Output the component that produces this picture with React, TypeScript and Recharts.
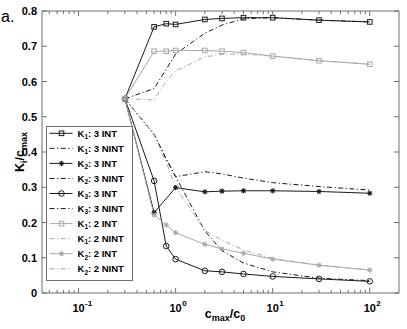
import React from 'react';
import { LineChart, Line, XAxis, YAxis, Legend } from 'recharts';

// ---------- data ----------
const xValues = [0.3, 0.6, 0.8, 1, 2, 3, 5, 10, 30, 100];

const k1Int3 = [0.551, 0.755, 0.764, 0.762, 0.776, 0.779, 0.781, 0.781, 0.774, 0.769];
const k1Nint3 = [0.551, 0.58, 0.635, 0.678, 0.737, 0.76, 0.778, 0.781, 0.774, 0.769];
const k2Int3 = [0.551, 0.228, null, 0.299, 0.287, 0.289, 0.29, 0.29, 0.288, 0.283];
const k2Nint3 = [0.551, 0.45, 0.38, 0.33, 0.344, 0.338, 0.326, 0.313, 0.302, 0.292];
const k3Int3 = [0.551, 0.318, 0.133, 0.096, 0.063, 0.06, 0.054, 0.047, 0.04, 0.033];
const k3Nint3 = [0.551, 0.45, 0.38, 0.33, 0.176, 0.12, 0.085, 0.06, 0.042, 0.035];
const k1Int2 = [0.551, 0.686, 0.686, 0.688, 0.688, 0.686, 0.682, 0.672, 0.659, 0.649];
const k1Nint2 = [0.551, 0.548, 0.6, 0.63, 0.67, 0.677, 0.678, 0.672, 0.659, 0.649];
const k2Int2 = [0.551, 0.221, 0.193, 0.171, 0.138, 0.125, 0.113, 0.096, 0.079, 0.065];
const k2Nint2 = [0.551, 0.45, 0.37, 0.3, 0.177, 0.15, 0.122, 0.098, 0.079, 0.065];

const xMajorTicks = [0.1, 1, 10, 100];
const xTickExponents = ['-1', '0', '1', '2'];
const xMinorTicks = [
  0.05, 0.06, 0.07, 0.08, 0.09,
  0.2, 0.3, 0.4, 0.5, 0.6, 0.7, 0.8, 0.9,
  2, 3, 4, 5, 6, 7, 8, 9,
  20, 30, 40, 50, 60, 70, 80, 90,
];
const yTicks = [0, 0.1, 0.2, 0.3, 0.4, 0.5, 0.6, 0.7, 0.8];
const yTickLabels = ['0', '0.1', '0.2', '0.3', '0.4', '0.5', '0.6', '0.7', '0.8'];

// ---------- styling ----------
const W = 407;
const H = 329;
const MARGIN = { top: 10, right: 7, bottom: 35, left: 41 };
const X_DOMAIN = [0.042, 200];
const Y_DOMAIN = [0, 0.8];
const AXIS = '#6e6e6e';
const BLACK = '#1a1a1a';
const GREY = '#a9a9a9';
const FONT = "'Liberation Sans', Arial, Helvetica, sans-serif";
const DASHDOT = '5 2.5 1.2 2.5';

type Marker = 'square' | 'star' | 'circle' | 'none';
interface SeriesDef {
  key: string;
  values: (number | null)[];
  sub: string;
  label: string;
  color: string;
  dash?: string;
  marker: Marker;
}

const series: SeriesDef[] = [
  { key: 'k1Int3', values: k1Int3, sub: '1', label: ': 3 INT', color: BLACK, marker: 'square' },
  { key: 'k1Nint3', values: k1Nint3, sub: '1', label: ': 3 NINT', color: BLACK, dash: DASHDOT, marker: 'none' },
  { key: 'k2Int3', values: k2Int3, sub: '2', label: ': 3 INT', color: BLACK, marker: 'star' },
  { key: 'k2Nint3', values: k2Nint3, sub: '2', label: ': 3 NINT', color: BLACK, dash: DASHDOT, marker: 'none' },
  { key: 'k3Int3', values: k3Int3, sub: '3', label: ': 3 INT', color: BLACK, marker: 'circle' },
  { key: 'k3Nint3', values: k3Nint3, sub: '3', label: ': 3 NINT', color: BLACK, dash: DASHDOT, marker: 'none' },
  { key: 'k1Int2', values: k1Int2, sub: '1', label: ': 2 INT', color: GREY, marker: 'square' },
  { key: 'k1Nint2', values: k1Nint2, sub: '1', label: ': 2 NINT', color: GREY, dash: DASHDOT, marker: 'none' },
  { key: 'k2Int2', values: k2Int2, sub: '2', label: ': 2 INT', color: GREY, marker: 'star' },
  { key: 'k2Nint2', values: k2Nint2, sub: '2', label: ': 2 NINT', color: GREY, dash: DASHDOT, marker: 'none' },
];

const rows = xValues.map((x, i) => {
  const r: Record<string, number | null> = { x };
  series.forEach((s) => {
    r[s.key] = s.values[i];
  });
  return r;
});

// ---------- markers ----------
function markerShape(kind: Marker, cx: number, cy: number, color: string, k: string) {
  if (kind === 'square') {
    const s = 2.3;
    return <rect key={k} x={cx - s} y={cy - s} width={2 * s} height={2 * s} fill="none" stroke={color} strokeWidth={1} />;
  }
  if (kind === 'circle') {
    return <circle key={k} cx={cx} cy={cy} r={2.8} fill="none" stroke={color} strokeWidth={1} />;
  }
  if (kind === 'star') {
    const r = 2.6;
    const d = r * 0.72;
    return (
      <g key={k} stroke={color} strokeWidth={1.1}>
        <line x1={cx - r} y1={cy} x2={cx + r} y2={cy} />
        <line x1={cx} y1={cy - r} x2={cx} y2={cy + r} />
        <line x1={cx - d} y1={cy - d} x2={cx + d} y2={cy + d} />
        <line x1={cx - d} y1={cy + d} x2={cx + d} y2={cy - d} />
      </g>
    );
  }
  return <g key={k} />;
}

function makeDot(s: SeriesDef) {
  return (props: any) => {
    const { cx, cy, index } = props;
    const k = `${s.key}-${index}`;
    if (cx == null || cy == null || props.value == null) return <g key={k} />;
    return markerShape(s.marker, cx, cy, s.color, k);
  };
}

// ---------- ticks ----------
const XTick = (props: any) => {
  const { x, y, payload, side } = props;
  const v = payload.value;
  const mi = xMajorTicks.indexOf(v);
  const major = mi >= 0;
  const len = major ? 5 : 3;
  const dir = side === 'bottom' ? -1 : 1;
  return (
    <g>
      <line x1={x} y1={y} x2={x} y2={y + dir * len} stroke={AXIS} strokeWidth={1} />
      {major && side === 'bottom' && (
        <g fontFamily={FONT} fontWeight="bold" fill="#000">
          <text x={x} y={y + 19} textAnchor="middle" fontSize={11}>10</text>
          <text x={x + 6.5} y={y + 12.5} textAnchor="start" fontSize={8}>{xTickExponents[mi]}</text>
        </g>
      )}
    </g>
  );
};

const YTick = (props: any) => {
  const { x, y, payload, side } = props;
  const i = yTicks.indexOf(payload.value);
  const dir = side === 'left' ? 1 : -1;
  return (
    <g>
      <line x1={x} y1={y} x2={x + dir * 5} y2={y} stroke={AXIS} strokeWidth={1} />
      {side === 'left' && (
        <text x={x - 5} y={y + 4} textAnchor="end" fontSize={11} fontFamily={FONT} fontWeight="bold" fill="#000">
          {yTickLabels[i]}
        </text>
      )}
    </g>
  );
};

// ---------- legend ----------
const LegendBox = () => {
  const w = 86;
  const h = 154;
  return (
    <svg width={w + 1} height={h + 1} style={{ display: 'block' }}>
      <rect x={0.5} y={0.5} width={w} height={h} fill="#fff" stroke={AXIS} strokeWidth={1} />
      {series.map((s, i) => {
        const cy = 7.3 + i * 15.05;
        return (
          <g key={s.key}>
            <line x1={3.5} y1={cy} x2={26.5} y2={cy} stroke={s.color} strokeWidth={1} strokeDasharray={s.dash} />
            {markerShape(s.marker, 15.5, cy, s.color, `lg-${s.key}`)}
            <text x={31.5} y={cy + 3.3} fontSize={9.5} fontFamily={FONT} fontWeight="bold" fill="#000">
              K
              <tspan dy={2.5} fontSize={6.5}>{s.sub}</tspan>
              <tspan dy={-2.5}>{s.label}</tspan>
            </text>
          </g>
        );
      })}
    </svg>
  );
};

export default function App() {
  const xTicksAll = [...xMinorTicks, ...xMajorTicks].sort((a, b) => a - b);
  return (
    <div style={{ position: 'absolute', left: 0, top: 0, width: W, height: H, background: '#fff' }}>
      <LineChart width={W} height={H} data={rows} margin={MARGIN}>
        <XAxis
          dataKey="x"
          type="number"
          scale="log"
          domain={X_DOMAIN}
          allowDataOverflow
          ticks={xTicksAll}
          interval={0}
          height={1}
          tickSize={0}
          tickMargin={0}
          tickLine={false}
          axisLine={{ stroke: AXIS }}
          tick={<XTick side="bottom" />}
        />
        <XAxis
          xAxisId="top"
          orientation="top"
          dataKey="x"
          type="number"
          scale="log"
          domain={X_DOMAIN}
          allowDataOverflow
          ticks={xTicksAll}
          interval={0}
          height={1}
          tickSize={0}
          tickMargin={0}
          tickLine={false}
          axisLine={{ stroke: AXIS }}
          tick={<XTick side="top" />}
        />
        <YAxis
          type="number"
          domain={Y_DOMAIN}
          allowDataOverflow
          ticks={yTicks}
          interval={0}
          width={1}
          tickSize={0}
          tickMargin={0}
          tickLine={false}
          axisLine={{ stroke: AXIS }}
          tick={<YTick side="left" />}
        />
        <YAxis
          yAxisId="right"
          orientation="right"
          type="number"
          domain={Y_DOMAIN}
          allowDataOverflow
          ticks={yTicks}
          interval={0}
          width={1}
          tickSize={0}
          tickMargin={0}
          tickLine={false}
          axisLine={{ stroke: AXIS }}
          tick={<YTick side="right" />}
        />
        {series.map((s) => (
          <Line
            key={s.key}
            dataKey={s.key}
            type="linear"
            stroke={s.color}
            strokeWidth={1}
            strokeDasharray={s.dash}
            dot={makeDot(s)}
            activeDot={false}
            connectNulls
            isAnimationActive={false}
          />
        ))}
        <Legend
          content={LegendBox}
          layout="horizontal"
          verticalAlign="middle"
          align="center"
          wrapperStyle={{ left: 46, top: 126, width: 88, height: 156, margin: 0, padding: 0 }}
        />
        <text x={1} y={21.5} fontSize={16} fontFamily={FONT} fill="#000">a.</text>
        <text x={225} y={318} textAnchor="middle" fontSize={12.5} fontFamily={FONT} fontWeight="bold" fill="#000">
          c<tspan dy={3} fontSize={9}>max</tspan>
          <tspan dy={-3}>/c</tspan>
          <tspan dy={3} fontSize={9}>0</tspan>
        </text>
        <text
          x={0}
          y={0}
          transform="translate(24,152) rotate(-90)"
          textAnchor="middle"
          fontSize={12.5}
          fontFamily={FONT}
          fontWeight="bold"
          fill="#000"
        >
          K<tspan dy={3} fontSize={9}>i</tspan>
          <tspan dy={-3}>/c</tspan>
          <tspan dy={3} fontSize={9}>max</tspan>
        </text>
      </LineChart>
    </div>
  );
}
